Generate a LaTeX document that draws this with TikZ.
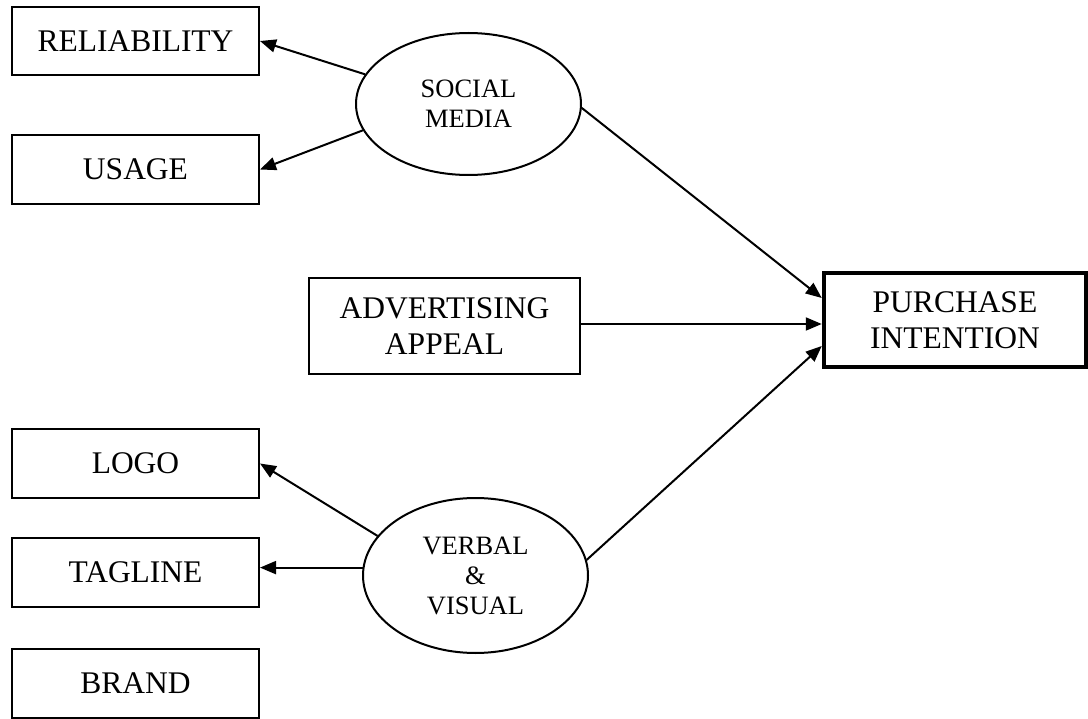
\documentclass[tikz,border=0pt]{standalone}
\usepackage{fontspec}
\setmainfont{Liberation Serif}
\usetikzlibrary{shapes.geometric,arrows.meta}
\begin{document}
\begin{tikzpicture}[x=1pt,y=-1pt,
  box/.style={draw,line width=2pt,rectangle,inner sep=0pt,align=center,
    font=\fontsize{31.5}{35.5}\selectfont},
  leftbox/.style={box,minimum width=247pt,minimum height=68.5pt},
  oval/.style={draw,line width=2pt,ellipse,inner sep=0pt,align=center,
    minimum width=225pt,font=\fontsize{26.5}{30}\selectfont},
  conn/.style={line width=2pt,-{Triangle[length=16pt,width=13pt]}}
]
\useasboundingbox (0,0) rectangle (1088,719);
\fill[white] (0,0) rectangle (1088,719);

\node[leftbox] (rel) at (135.5,41) {RELIABILITY};
\node[leftbox] (usage) at (135.5,169.5) {USAGE};
\node[leftbox] (logo) at (135.5,463.5) {LOGO};
\node[leftbox] (tag) at (135.5,572.5) {TAGLINE};
\node[leftbox] (brand) at (135.5,683.5) {BRAND};

\node[box,minimum width=271pt,minimum height=96pt] (adv) at (444.5,326) {ADVERTISING\\APPEAL};
\node[box,line width=4.5pt,minimum width=262pt,minimum height=94pt] (pi) at (955,320) {PURCHASE\\INTENTION};

\node[oval,minimum height=142pt] (sm) at (468.5,104) {SOCIAL\\MEDIA};
\node[oval,minimum height=155pt] (vv) at (475.5,575.5) {VERBAL\\\&\\VISUAL};

\draw[conn] (sm.164) -- (rel.east);
\draw[conn] (sm.194) -- (usage.east);
\draw[conn] (sm.358) -- ([yshift=22pt]pi.west);
\draw[conn] ([yshift=2pt]adv.east) -- ([yshift=2pt]adv.east -| pi.west);
\draw[conn] (vv.8) -- ([yshift=-26pt]pi.west);
\draw[conn] (vv.158) -- (logo.east);
\draw[conn] (vv.176) -- (vv.176 -| tag.east);
\end{tikzpicture}
\end{document}
